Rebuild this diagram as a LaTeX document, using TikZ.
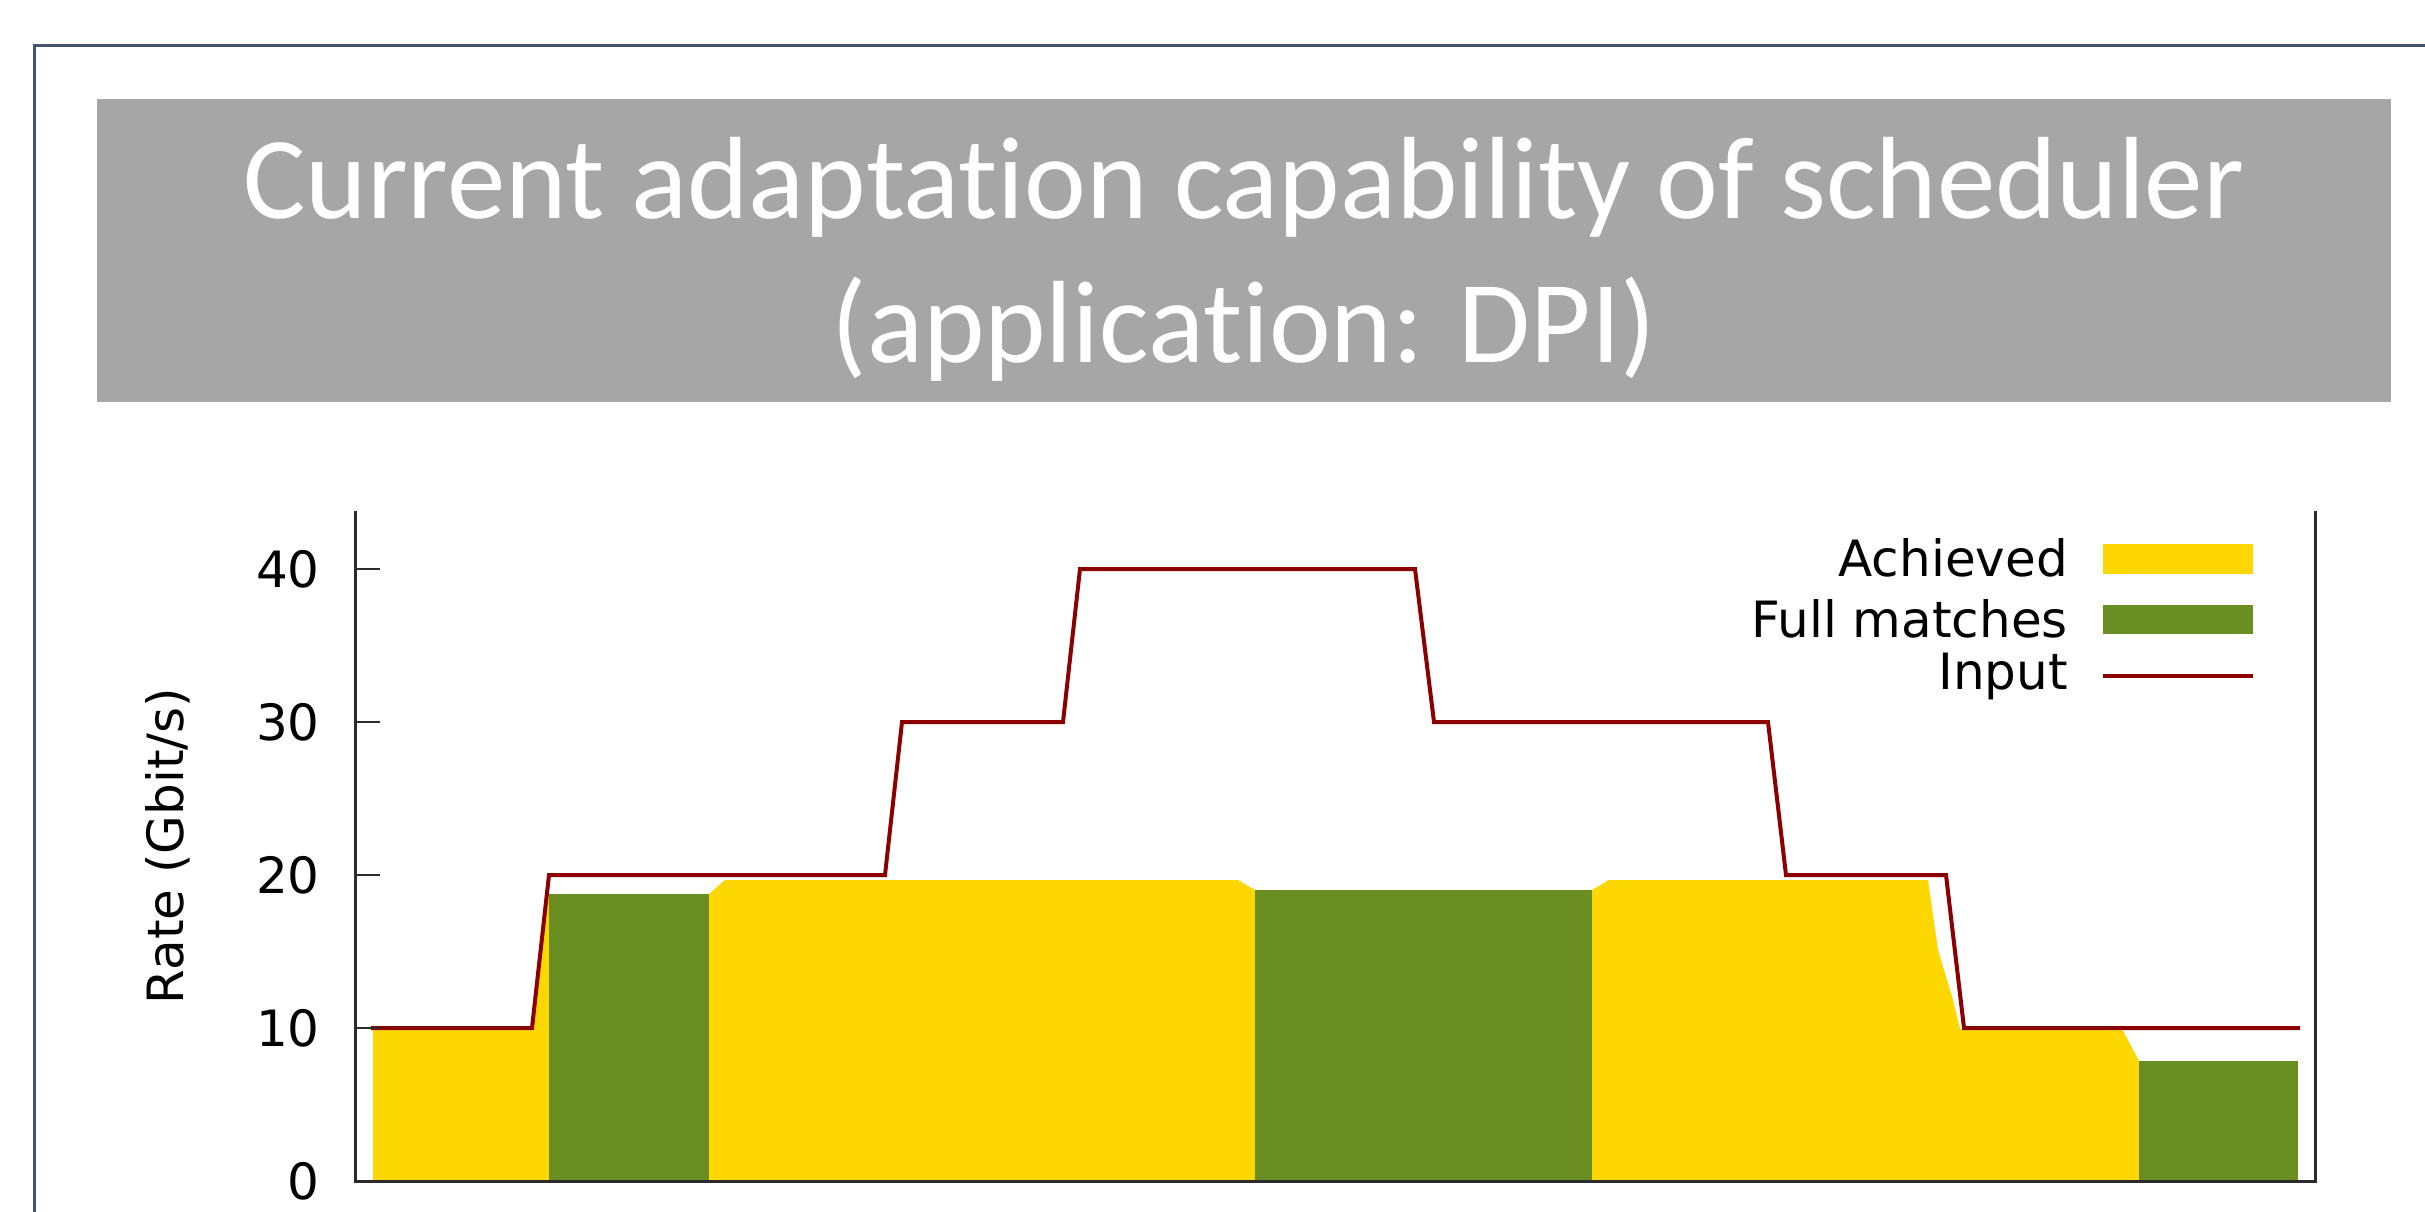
\documentclass[tikz,border=0pt]{standalone}
\usepackage{fontspec}
\usepackage{pdfrender}
\setmainfont{Carlito}[Ligatures=NoCommon]
\newfontfamily\plotfont{DejaVu Sans}
\definecolor{frameblue}{HTML}{44546A}
\definecolor{titlegray}{HTML}{A6A6A6}
\definecolor{achieved}{HTML}{FFD700}
\definecolor{fullmatch}{HTML}{6B8E23}
\definecolor{inputred}{HTML}{8B0000}
\definecolor{axisgray}{HTML}{2B2B2B}
% thin white title lettering: a grey outline eats into the glyph edges
\newcommand{\thintitle}[1]{\textpdfrender{TextRenderingMode=FillStroke,LineWidth=3pt,StrokeColor=titlegray,FillColor=white}{#1}}
\begin{document}
\begin{tikzpicture}[x=1pt,y=-1pt,
  titletext/.style={anchor=base,text=white,inner sep=0pt,font=\fontsize{117}{140}\selectfont},
  plottext/.style={inner sep=0pt,font=\plotfont\fontsize{50}{60}\selectfont},
  axisline/.style={draw=axisgray,line width=3pt},
  inputline/.style={draw=inputred,line width=4pt,line join=miter}]
\useasboundingbox[fill=white] (0,0) rectangle (2425,1211);

% slide frame and title bar
\draw[frameblue,line width=3pt] (2440,45) -- (34,45) -- (34,1240);
\fill[titlegray] (97,99) rectangle (2391,402);
\node[titletext] (title1) at (1244,218) {\thintitle{Current adaptation capability of scheduler}};
\node[titletext] (title2) at (1244,362) {\thintitle{(application: DPI)}};

% achieved throughput (yellow)
\fill[achieved] (373,1181) -- (373,1028) -- (532,1028) -- (548,894) -- (549,894) -- (549,1181) -- cycle;
\fill[achieved] (709,1181) -- (709,894) -- (725,880) -- (1238,880) -- (1255,890) -- (1255,1181) -- cycle;
\fill[achieved] (1592,1181) -- (1592,890) -- (1609,880) -- (1928,880) -- (1938,950) -- (1953,1000)
  -- (1960,1029) -- (2122,1029) -- (2139,1061) -- (2139,1181) -- cycle;
% full matches (green)
\fill[fullmatch] (549,894) rectangle (709,1181);
\fill[fullmatch] (1255,890) rectangle (1592,1181);
\fill[fullmatch] (2139,1061) rectangle (2298,1181);

% input rate
\draw[inputline] (371,1028) -- (532,1028) -- (549,875) -- (885,875) -- (902,722) -- (1063,722)
  -- (1080,569) -- (1415,569) -- (1434,722) -- (1768,722) -- (1786,875) -- (1946,875)
  -- (1964,1028) -- (2300,1028);

% axes and ticks
\draw[axisline] (355,511) -- (355,1181) -- (2315,1181) -- (2315,511);
\foreach \yy in {569,722,875,1028} \draw[draw=axisgray,line width=2pt] (355,\yy) -- (380,\yy);
\node[plottext,anchor=east] (t40) at (320,569) {40};
\node[plottext,anchor=east] (t30) at (320,722) {30};
\node[plottext,anchor=east] (t20) at (320,875) {20};
\node[plottext,anchor=east] (t10) at (320,1028) {10};
\node[plottext,anchor=east] (t0) at (320,1181) {0};
\node[plottext,rotate=90] (ylab) at (168,846) {Rate (Gbit/s)};

% legend
\node[plottext,anchor=east] (lach) at (2068,558) {Achieved};
\node[plottext,anchor=east] (lfull) at (2068,619) {Full matches};
\node[plottext,anchor=east] (linp) at (2068,676) {Input};
\fill[achieved] (2103,544) rectangle (2253,574);
\fill[fullmatch] (2103,605) rectangle (2253,634);
\draw[inputline] (2103,676) -- (2253,676);
\end{tikzpicture}
\end{document}
